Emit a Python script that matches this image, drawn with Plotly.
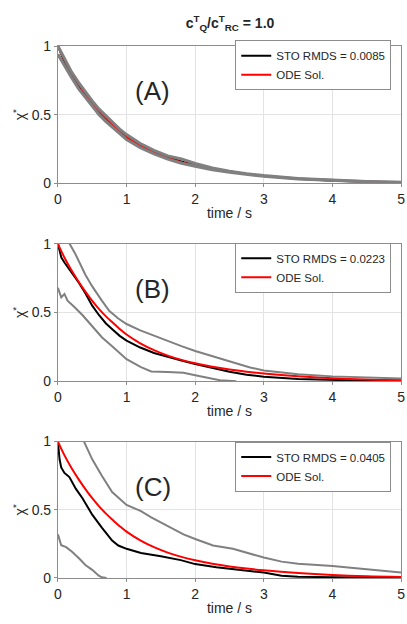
import plotly.graph_objects as go

# ---------------- data ----------------
# deterministic (ODE) solution, same in all three panels
t_ode = [0, 0.1, 0.2, 0.3, 0.4, 0.5, 0.6, 0.7, 0.8, 0.9, 1.0, 1.2, 1.4, 1.6, 1.8,
         2.0, 2.25, 2.5, 2.75, 3.0, 3.5, 4.0, 4.5, 5.0]
x_ode = [1.0, 0.895, 0.805, 0.725, 0.652, 0.585, 0.525, 0.472, 0.425, 0.38, 0.34,
         0.276, 0.226, 0.186, 0.155, 0.13, 0.105, 0.085, 0.069, 0.056, 0.036,
         0.022, 0.013, 0.008]

# panel A: stochastic mean and envelope
t_a = [0, 0.1, 0.2, 0.3, 0.4, 0.5, 0.6, 0.7, 0.8, 0.9, 1.0, 1.2, 1.4, 1.6, 1.8,
       2.0, 2.25, 2.5, 2.75, 3.0, 3.5, 4.0, 4.5, 5.0]
a_mean = [1.0, 0.88, 0.79, 0.715, 0.645, 0.58, 0.52, 0.47, 0.42, 0.375, 0.335,
          0.272, 0.226, 0.188, 0.16, 0.133, 0.106, 0.085, 0.068, 0.054, 0.034,
          0.02, 0.012, 0.006]
a_upper = [1.0, 0.9, 0.81, 0.735, 0.665, 0.6, 0.54, 0.49, 0.44, 0.395, 0.355,
           0.29, 0.24, 0.2, 0.178, 0.145, 0.113, 0.089, 0.071, 0.057, 0.036,
           0.022, 0.013, 0.008]
a_lower = [0.94, 0.85, 0.77, 0.69, 0.625, 0.56, 0.5, 0.45, 0.405, 0.36, 0.32,
           0.26, 0.215, 0.177, 0.147, 0.125, 0.1, 0.081, 0.065, 0.051, 0.032,
           0.019, 0.011, 0.006]

# panel B
t_b_mean = [0, 0.05, 0.1, 0.2, 0.3, 0.4, 0.5, 0.6, 0.7, 0.8, 0.9, 1.0, 1.2, 1.4,
            1.6, 1.8, 2.0, 2.25, 2.5, 2.75, 3.0, 3.5, 4.0, 4.5, 5.0]
b_mean = [1.0, 0.9, 0.86, 0.79, 0.72, 0.64, 0.55, 0.48, 0.42, 0.375, 0.33, 0.295,
          0.245, 0.205, 0.175, 0.15, 0.125, 0.095, 0.068, 0.047, 0.032, 0.015,
          0.007, 0.003, 0.001]
t_b_upper = [0.17, 0.25, 0.4, 0.5, 0.64, 0.75, 0.88, 1.0, 1.2, 1.36, 1.6, 1.8,
             2.0, 2.3, 2.55, 2.8, 3.0, 3.5, 4.0, 4.5, 5.0]
b_upper = [1.0, 0.93, 0.775, 0.69, 0.586, 0.51, 0.456, 0.416, 0.37, 0.338, 0.29,
           0.255, 0.22, 0.175, 0.14, 0.1, 0.078, 0.05, 0.035, 0.027, 0.02]
t_b_lower = [0, 0.048, 0.095, 0.14, 0.24, 0.36, 0.5, 0.64, 0.79, 1.0, 1.21, 1.36,
             1.6, 1.83, 2.0, 2.17, 2.36, 2.6]
b_lower = [0.68, 0.61, 0.635, 0.586, 0.54, 0.48, 0.4, 0.32, 0.255, 0.16, 0.102,
           0.071, 0.066, 0.061, 0.043, 0.024, 0.007, 0.0]

# panel C
t_c_mean = [0, 0.024, 0.048, 0.095, 0.167, 0.26, 0.36, 0.5, 0.64, 0.79, 0.88,
            1.0, 1.21, 1.5, 1.79, 2.0, 2.31, 2.55, 3.0, 3.26, 3.5, 4.0, 5.0]
c_mean = [1.0, 0.87, 0.81, 0.77, 0.74, 0.655, 0.583, 0.464, 0.37, 0.274, 0.238,
          0.214, 0.183, 0.16, 0.131, 0.102, 0.079, 0.067, 0.04, 0.017, 0.01,
          0.005, 0.002]
t_c_upper = [0.38, 0.5, 0.64, 0.79, 1.0, 1.21, 1.36, 1.6, 1.83, 2.0, 2.26, 2.55,
             2.79, 3.0, 3.26, 3.5, 4.0, 4.45, 5.0]
c_upper = [1.0, 0.87, 0.75, 0.63, 0.536, 0.49, 0.445, 0.38, 0.32, 0.286, 0.238,
           0.214, 0.18, 0.15, 0.12, 0.105, 0.088, 0.064, 0.04]
t_c_lower = [0, 0.048, 0.12, 0.21, 0.31, 0.4, 0.5, 0.595, 0.64, 0.71]
c_lower = [0.32, 0.24, 0.226, 0.19, 0.143, 0.095, 0.06, 0.017, 0.005, 0.0]

rmsd_labels = ["STO RMDS = 0.0085", "STO RMDS = 0.0223", "STO RMDS = 0.0405"]
panel_tags = ["(A)", "(B)", "(C)"]
x_ticks = [0, 1, 2, 3, 4, 5]
y_ticks = [0, 0.5, 1]

panels = [
    (t_a, a_mean, [(t_a, a_upper), (t_a, a_lower)], 3),
    (t_b_mean, b_mean, [(t_b_upper, b_upper), (t_b_lower, b_lower)], 2),
    (t_c_mean, c_mean, [(t_c_upper, c_upper), (t_c_lower, c_lower)], 2),
]

# ---------------- figure ----------------
W, H = 407, 624
FONT = "Liberation Sans, Arial, sans-serif"
GRAY = "rgb(128,128,128)"
TXT = "#262626"

# plot-area pixel boxes (top, bottom) for each panel
rows_px = [(39, 180), (242, 383), (445, 585)]
x_dom = [55 / W, 405 / W]
legend_tops = [33, 241, 445]

fig = go.Figure()

for i, (tm, ym, envs, gw) in enumerate(panels):
    n = "" if i == 0 else str(i + 1)
    xa, ya = "x" + n, "y" + n
    lg = "legend" + n
    fig.add_trace(go.Scatter(x=tm, y=ym, mode="lines", name=rmsd_labels[i],
                             line=dict(color="black", width=2),
                             xaxis=xa, yaxis=ya, legend=lg))
    fig.add_trace(go.Scatter(x=t_ode, y=x_ode, mode="lines", name="ODE Sol.",
                             line=dict(color="red", width=2, shape="spline"),
                             xaxis=xa, yaxis=ya, legend=lg))
    for te, ye in envs:
        fig.add_trace(go.Scatter(x=te, y=ye, mode="lines", showlegend=False,
                                 line=dict(color=GRAY, width=gw),
                                 xaxis=xa, yaxis=ya))

    top, bot = rows_px[i]
    axis_common = dict(showgrid=True, gridcolor="#e3e3e3", gridwidth=1,
                       zeroline=False, showline=True, linecolor="#8c8c8c",
                       linewidth=1, mirror=True, ticks="outside", ticklen=3,
                       tickcolor="#8c8c8c", ticklabeloverflow="allow",
                       tickfont=dict(family=FONT, size=14, color=TXT))
    fig.layout["xaxis" + n] = dict(
        domain=x_dom, range=[0, 5], tickvals=x_ticks, anchor=ya,
        title=dict(text="time / s", standoff=2,
                   font=dict(family=FONT, size=14, color=TXT)),
        **axis_common)
    fig.layout["yaxis" + n] = dict(
        domain=[1 - bot / H, 1 - top / H], range=[0, 1], tickvals=y_ticks,
        anchor=xa,
        title=dict(text="χ<sup>*</sup>", standoff=2,
                   font=dict(family=FONT, size=14, color=TXT)),
        **axis_common)
    fig.layout[lg] = dict(
        x=395 / W, y=1 - legend_tops[i] / H, xanchor="right", yanchor="top",
        bgcolor="white", bordercolor="#8c8c8c", borderwidth=1,
        font=dict(family=FONT, size=11.5, color=TXT),
        tracegroupgap=0, itemwidth=30)
    fig.add_annotation(text=panel_tags[i], x=1.38, y=0.67, xref=xa, yref=ya,
                       showarrow=False,
                       font=dict(family=FONT, size=26, color=TXT))

fig.update_layout(
    width=W, height=H, margin=dict(l=0, r=0, t=0, b=0),
    paper_bgcolor="white", plot_bgcolor="white",
    title=dict(text="<b>c<sup>T</sup><sub>Q</sub>/c<sup>T</sup><sub>RC</sub> = 1.0</b>",
               x=230 / W, xanchor="center", y=1 - 23 / H, yanchor="middle",
               font=dict(family=FONT, size=14, color=TXT)),
)

fig.write_html("out.html")
